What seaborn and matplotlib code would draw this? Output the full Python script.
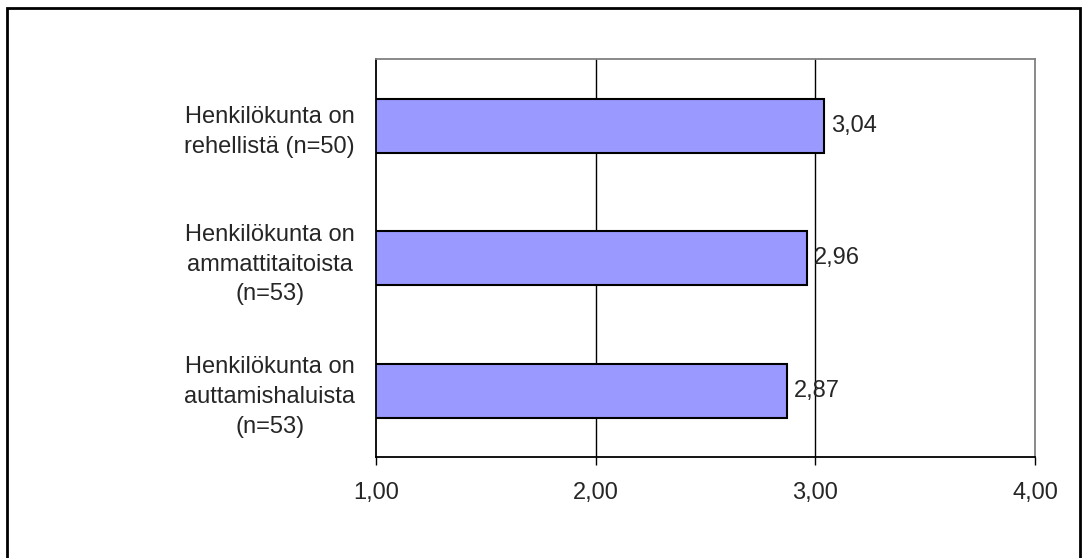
import matplotlib
matplotlib.use("Agg")
import matplotlib.pyplot as plt
from matplotlib.patches import Rectangle
import pandas as pd
import seaborn as sns

# Survey statements and their mean scores (scale 1-4)
statements = [
    "Henkilökunta on\nrehellistä (n=50)",
    "Henkilökunta on\nammattitaitoista\n(n=53)",
    "Henkilökunta on\nauttamishaluista\n(n=53)",
]
means = [3.04, 2.96, 2.87]
x_ticks = [1.0, 2.0, 3.0, 4.0]
x_tick_labels = ["1,00", "2,00", "3,00", "4,00"]

sns.set_style("white")
plt.rcParams["font.family"] = ["Liberation Sans", "DejaVu Sans"]
FS = 17

df = pd.DataFrame({"statement": statements, "mean": means})

fig = plt.figure(figsize=(10.85, 5.58), dpi=100)
ax = fig.add_axes([0.3465, 0.181, 0.6074, 0.7124])

sns.barplot(data=df, x="mean", y="statement", orient="h", order=statements,
            color="#9999FF", edgecolor="black", linewidth=1.5, width=0.41,
            saturation=1, ax=ax)

ax.set_xlim(1.0, 4.0)
ax.set_ylim(2.5, -0.5)
ax.set_xticks(x_ticks)
ax.set_xticklabels(x_tick_labels, fontsize=FS)
ax.set_xlabel("")
ax.set_ylabel("")

# Vertical gridlines at the inner major ticks
for t in x_ticks[1:-1]:
    ax.axvline(t, color="black", linewidth=1, zorder=0)

for lbl in ax.get_yticklabels():
    lbl.set_fontsize(FS)
    lbl.set_multialignment("center")
    lbl.set_linespacing(1.45)

ax.tick_params(axis="x", direction="out", length=6, width=1, color="black",
               pad=12, bottom=True)
ax.tick_params(axis="y", length=0, pad=15)

for side in ("left", "bottom"):
    ax.spines[side].set_color("black")
    ax.spines[side].set_linewidth(1.3)
for side in ("top", "right"):
    ax.spines[side].set_visible(True)
    ax.spines[side].set_color("#808080")
    ax.spines[side].set_linewidth(1.3)

for container in ax.containers:
    ax.bar_label(container,
                 labels=[f"{v:.2f}".replace(".", ",") for v in means],
                 padding=5, fontsize=FS)

# Frame around the whole chart
fig.patches.append(Rectangle((0.0065, -0.05), 0.989, 1.0357,
                             transform=fig.transFigure, fill=False,
                             edgecolor="black", linewidth=2.0))

fig.savefig("out.png", dpi=100)
